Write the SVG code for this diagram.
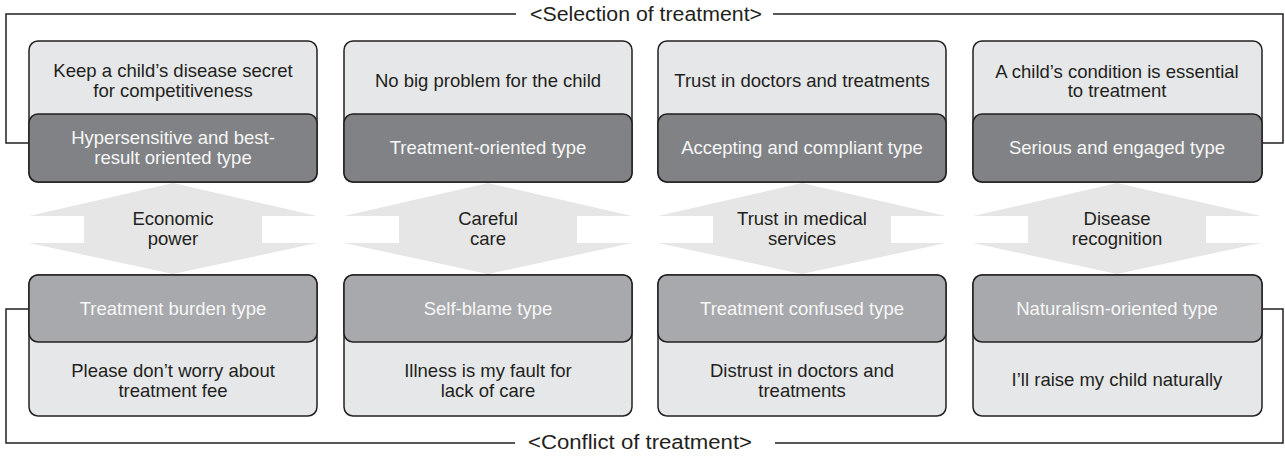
<svg xmlns="http://www.w3.org/2000/svg" width="1285" height="456" viewBox="0 0 1285 456">
<style>
text{font-family:"Liberation Sans",Arial,sans-serif;font-size:18.5px;text-anchor:middle}
.lt{fill:#231f20}
.wt{fill:#f7f7f7}
.light{fill:#e6e7e8;stroke:#231f20;stroke-width:1.5}
.dark{fill:#808285;stroke:#231f20;stroke-width:1.5}
.mid{fill:#a7a9ac;stroke:#231f20;stroke-width:1.5}
.arrow{fill:#e6e6e6}
.frame{fill:none;stroke:#231f20;stroke-width:1.5}
.title{font-size:20px;fill:#231f20}
</style>
<rect width="1285" height="456" fill="#fff"/>
<g id="connectors">
<polyline class="frame" points="516,14 6,14 6,143 29,143"/>
<polyline class="frame" points="773,14 1283,14 1283,143 1262,143"/>
<polyline class="frame" points="29,309 6,309 6,443 515,443"/>
<polyline class="frame" points="775,443 1283,443 1283,309 1262,309"/>
</g>
<g id="titles">
<text class="title" x="646" y="21" textLength="232" lengthAdjust="spacingAndGlyphs">&lt;Selection of treatment&gt;</text>
<text class="title" x="640" y="449" textLength="224" lengthAdjust="spacingAndGlyphs">&lt;Conflict of treatment&gt;</text>
</g>
<g id="arrows">
<polygon class="arrow" points="173,183 317,216 262,216 262,243 317,243 173,274 29,243 84,243 84,216 29,216"/>
<polygon class="arrow" points="488,183 632,216 577,216 577,243 632,243 488,274 344,243 399,243 399,216 344,216"/>
<polygon class="arrow" points="802,183 946,216 891,216 891,243 946,243 802,274 658,243 713,243 713,216 658,216"/>
<polygon class="arrow" points="1117,183 1261,216 1206,216 1206,243 1261,243 1117,274 973,243 1028,243 1028,216 973,216"/>
<text class="lt" x="173" y="225">Economic</text>
<text class="lt" x="173" y="245">power</text>
<text class="lt" x="488" y="225">Careful</text>
<text class="lt" x="488" y="245">care</text>
<text class="lt" x="802" y="225">Trust in medical</text>
<text class="lt" x="802" y="245">services</text>
<text class="lt" x="1117" y="225">Disease</text>
<text class="lt" x="1117" y="245">recognition</text>
</g>
<g id="node-hypersensitive">
<rect class="light" x="29" y="41" width="288" height="141" rx="9"/>
<rect class="dark" x="29" y="114" width="288" height="68" rx="9"/>
<text class="lt" x="173" y="77">Keep a child’s disease secret</text>
<text class="lt" x="173" y="97">for competitiveness</text>
<text class="wt" x="173" y="144">Hypersensitive and best-</text>
<text class="wt" x="173" y="164">result oriented type</text>
</g>
<g id="node-treatment-oriented">
<rect class="light" x="344" y="41" width="288" height="141" rx="9"/>
<rect class="dark" x="344" y="114" width="288" height="68" rx="9"/>
<text class="lt" x="488" y="87">No big problem for the child</text>
<text class="wt" x="488" y="154">Treatment-oriented type</text>
</g>
<g id="node-accepting">
<rect class="light" x="658" y="41" width="288" height="141" rx="9"/>
<rect class="dark" x="658" y="114" width="288" height="68" rx="9"/>
<text class="lt" x="802" y="87">Trust in doctors and treatments</text>
<text class="wt" x="802" y="154">Accepting and compliant type</text>
</g>
<g id="node-serious">
<rect class="light" x="973" y="41" width="289" height="141" rx="9"/>
<rect class="dark" x="973" y="114" width="289" height="68" rx="9"/>
<text class="lt" x="1117" y="78">A child’s condition is essential</text>
<text class="lt" x="1117" y="97">to treatment</text>
<text class="wt" x="1117" y="154">Serious and engaged type</text>
</g>
<g id="node-burden">
<rect class="light" x="29" y="275" width="288" height="141" rx="9"/>
<rect class="mid" x="29" y="275" width="288" height="67" rx="9"/>
<text class="wt" x="173" y="315">Treatment burden type</text>
<text class="lt" x="173" y="377">Please don’t worry about</text>
<text class="lt" x="173" y="397">treatment fee</text>
</g>
<g id="node-self-blame">
<rect class="light" x="344" y="275" width="288" height="141" rx="9"/>
<rect class="mid" x="344" y="275" width="288" height="67" rx="9"/>
<text class="wt" x="488" y="315">Self-blame type</text>
<text class="lt" x="488" y="377">Illness is my fault for</text>
<text class="lt" x="488" y="397">lack of care</text>
</g>
<g id="node-confused">
<rect class="light" x="658" y="275" width="288" height="141" rx="9"/>
<rect class="mid" x="658" y="275" width="288" height="67" rx="9"/>
<text class="wt" x="802" y="315">Treatment confused type</text>
<text class="lt" x="802" y="377">Distrust in doctors and</text>
<text class="lt" x="802" y="397">treatments</text>
</g>
<g id="node-naturalism">
<rect class="light" x="973" y="275" width="289" height="141" rx="9"/>
<rect class="mid" x="973" y="275" width="289" height="67" rx="9"/>
<text class="wt" x="1117" y="315">Naturalism-oriented type</text>
<text class="lt" x="1117" y="386">I’ll raise my child naturally</text>
</g>
</svg>
